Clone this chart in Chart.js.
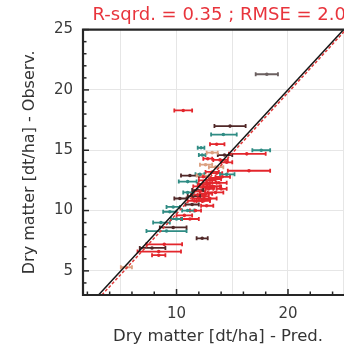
<!DOCTYPE html>
<html><head><meta charset="utf-8">
<script src="https://cdn.jsdelivr.net/npm/chart.js@4.4.1/dist/chart.umd.min.js"></script>
<style>
html,body{margin:0;padding:0;background:#fff;overflow:hidden;}
#wrap{width:344px;height:348px;overflow:hidden;position:relative;}
</style></head><body>
<div id="wrap"><canvas id="c" width="450" height="348" style="width:450px;height:348px;display:block"></canvas></div>
<script>
const titleText = 'R-sqrd. = 0.35 ; RMSE = 2.03';
const xAxisTitle = 'Dry matter [dt/ha] - Pred.';
const yAxisTitle = 'Dry matter [dt/ha] - Observ.';
const xLabelTicks = [10, 20, 30];
const xGridTicks = [5, 10, 15, 20, 25, 30];
const yTicksMajor = [5, 10, 15, 20, 25];
const xMinor = [2,4,6,8,10,12,14,16,18,20,22,24,26,28,30,32,34];
const yMinor = [3,4,5,6,7,8,9,10,11,12,13,14,15,16,17,18,19,20,21,22,23,24,25];

// per-point data: predicted range (lo, hi), predicted centre, observed, group
const predLo = [17.1, 9.8,11.8,13.4,13.1,16.8,14.7,14.6,11.9,12.0,10.4,10.2, 9.8, 9.1, 8.8,10.0,10.4, 7.9, 8.5, 7.3, 7.3, 6.7, 6.5, 7.8, 5.0,
                11.5,12.0,12.4,12.8,11.3,11.0,11.8,12.5,13.2,13.5,12.6,12.9,12.1,13.3,13.7,12.7,13.0,12.4,10.8,11.4,11.9,12.2,13.9,14.0,10.6,11.7,13.0,12.0,11.2,10.5, 9.5,13.6,12.6,
                11.9,12.3,11.6,12.7,12.1,11.4,12.9,12.4,11.8,13.1,12.2,11.0];
const predHi = [19.1,11.4,12.8,16.2,15.4,18.4,18.0,18.4,12.5,12.6,12.0,11.8,10.9,10.3,10.0,11.4,12.0, 9.4,10.9,10.9,10.5, 9.0,10.4, 9.0, 6.0,
                12.8,13.5,14.0,14.2,12.6,12.3,13.0,13.6,14.5,14.8,13.8,14.2,13.2,14.6,15.0,13.7,14.3,13.2,12.0,12.4,12.9,13.3,15.2,15.0,11.5,12.5,14.0,12.9,12.2,11.6,10.5,14.5,13.3,
                13.0,13.4,12.6,13.9,13.2,12.5,14.0,13.6,12.9,14.1,13.0,12.1];
const pred   = [18.1,10.6,12.3,14.8,14.2,17.6,16.3,16.5,12.2,12.3,11.2,11.0,10.3, 9.7, 9.4,10.7,11.2, 8.6, 9.7, 9.1, 8.9, 7.8, 8.4, 8.4, 5.5,
                12.1,12.7,13.2,13.5,11.9,11.6,12.4,13.0,13.8,14.1,13.2,13.5,12.6,13.9,14.3,13.2,13.6,12.8,11.4,11.9,12.4,12.7,14.5,14.5,11.0,12.1,13.5,12.4,11.7,11.0,10.0,14.0,12.9,
                12.4,12.8,12.1,13.3,12.6,12.0,13.4,13.0,12.3,13.6,12.6,11.5];
const obs    = [21.3,18.3, 7.7,17.0,16.3,15.0,14.7,13.3,15.2,14.6,12.9,12.4,11.0,10.3, 9.9, 9.6, 9.3, 9.0, 8.6, 8.3, 7.2, 6.9, 6.6, 6.3, 5.3,
                12.0,12.5,12.0,11.5,11.3,10.8,10.8,11.0,12.3,12.8,13.2,13.6,13.8,14.2,14.6,14.8,15.5,14.3,10.5,11.7,11.2,10.4,13.0,14.0,11.5,13.0,12.7,12.8,10.0,10.0, 9.3,11.8,11.8,
                12.2,11.9,11.6,12.0,11.4,11.0,12.6,12.3,12.9,13.1,10.9,11.2];
const grp    = [4,0,2,2,1,1,0,0,1,1,2,1,2,1,1,0,0,1,2,1,0,2,0,0,3,
                0,0,0,0,0,0,0,0,0,0,0,3,3,0,2,3,0,0,2,2,0,0,1,0,1,1,0,0,0,1,1,0,0,
                0,0,0,0,0,0,0,0,3,0,0,2];
const groupColors = ['#e3262c','#2f8c84','#512828','#dca080','#6b6060'];

const oneToOneX = [3, 25];
const oneToOneY = [3, 25];
const regX = [3.3, 25.2];
const regY = [3, 25];

const FONT = 'DejaVu Sans';

const scatterSets = groupColors.map((c, g) => ({
  type: 'scatter',
  label: 'group ' + g,
  data: pred.map((p, i) => ({x: p, y: obs[i], lo: predLo[i], hi: predHi[i], g: grp[i]})).filter(d => d.g === g),
  backgroundColor: c, borderColor: c, pointRadius: 1.8, pointHoverRadius: 1.8, borderWidth: 0,
  order: 2
}));

const errBars = {
  id: 'errBars',
  beforeDatasetsDraw(chart) {
    const {ctx, chartArea: a, scales: {x, y}} = chart;
    ctx.save();
    ctx.beginPath(); ctx.rect(a.left, a.top, a.right - a.left, a.bottom - a.top); ctx.clip();
    chart.data.datasets.forEach(ds => {
      if (ds.type !== 'scatter') return;
      ctx.strokeStyle = ds.borderColor; ctx.lineWidth = 1.8;
      ds.data.forEach(d => {
        const py = y.getPixelForValue(d.y), x0 = x.getPixelForValue(d.lo), x1 = x.getPixelForValue(d.hi);
        ctx.beginPath();
        ctx.moveTo(x0, py); ctx.lineTo(x1, py);
        ctx.moveTo(x0, py - 2); ctx.lineTo(x0, py + 2);
        ctx.moveTo(x1, py - 2); ctx.lineTo(x1, py + 2);
        ctx.stroke();
      });
    });
    ctx.restore();
  }
};

const frame = {
  id: 'frame',
  afterDraw(chart) {
    const {ctx, chartArea: a, scales: {x, y}} = chart;
    ctx.save();
    ctx.strokeStyle = '#262626';
    ctx.lineWidth = 1.5;
    xMinor.forEach(v => {
      const px = x.getPixelForValue(v);
      const L = (v % 10 === 0) ? 6 : 3.5;
      ctx.beginPath(); ctx.moveTo(px, a.bottom); ctx.lineTo(px, a.bottom - L); ctx.stroke();
    });
    yMinor.forEach(v => {
      const py = y.getPixelForValue(v);
      const L = (v % 5 === 0) ? 6 : 3.5;
      ctx.beginPath(); ctx.moveTo(a.left, py); ctx.lineTo(a.left + L, py); ctx.stroke();
    });
    ctx.lineWidth = 2.2;
    ctx.beginPath();
    ctx.moveTo(a.right, a.top); ctx.lineTo(a.left, a.top); ctx.lineTo(a.left, a.bottom); ctx.lineTo(a.right, a.bottom);
    ctx.stroke();
    // x-axis title, centred under the visible part of the plot
    ctx.fillStyle = '#333';
    ctx.font = '16.5px "' + FONT + '"';
    ctx.textAlign = 'center';
    ctx.textBaseline = 'middle';
    ctx.fillText(xAxisTitle, 218, 337);
    ctx.restore();
  }
};

new Chart(document.getElementById('c'), {
  data: {
    datasets: [
      {type: 'line', label: '1:1', data: oneToOneX.map((v, i) => ({x: v, y: oneToOneY[i]})),
       borderColor: '#151515', borderWidth: 1.5, pointRadius: 0, fill: false, order: 0},
      {type: 'line', label: 'regression', data: regX.map((v, i) => ({x: v, y: regY[i]})),
       borderColor: '#e03a3a', borderWidth: 1.5, borderDash: [3, 2], pointRadius: 0, fill: false, order: 1},
      ...scatterSets
    ]
  },
  options: {
    responsive: false, animation: false, devicePixelRatio: 1,
    layout: {padding: 0},
    plugins: {
      legend: {display: false},
      tooltip: {enabled: false},
      title: {display: true, text: titleText, color: '#e8343c',
              font: {family: FONT, size: 18, weight: 'normal'}, padding: {top: 5, bottom: 3}}
    },
    scales: {
      x: {
        type: 'linear', min: 1.607, max: 34.375,
        afterBuildTicks: s => { s.ticks = xGridTicks.map(v => ({value: v})); },
        afterFit: s => { s.height = 53; },
        grid: {color: '#e6e6e6', lineWidth: 1, drawTicks: false},
        border: {display: false},
        ticks: {font: {family: FONT, size: 15}, color: '#3a3a3a', padding: 10,
                callback: v => xLabelTicks.includes(v) ? String(v) : ''},
        title: {display: false}
      },
      y: {
        type: 'linear', min: 3, max: 25,
        afterBuildTicks: s => { s.ticks = yTicksMajor.map(v => ({value: v})); },
        afterFit: s => { s.width = 83; },
        grid: {color: '#e6e6e6', lineWidth: 1, drawTicks: false},
        border: {display: false},
        ticks: {font: {family: FONT, size: 15}, color: '#3a3a3a', padding: 10},
        title: {display: true, text: yAxisTitle, color: '#333', font: {family: FONT, size: 16}, padding: {top: 20, bottom: 0}}
      }
    }
  },
  plugins: [errBars, frame]
});
</script>
</body></html>
